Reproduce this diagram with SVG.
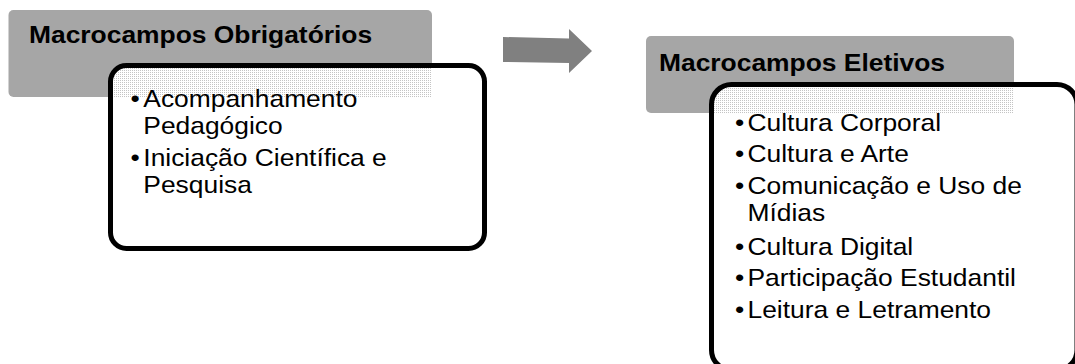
<svg xmlns="http://www.w3.org/2000/svg" width="1075" height="364" viewBox="0 0 1075 364">
<style>
.title{font-family:"Liberation Sans",Arial,sans-serif;font-weight:bold;font-size:24px;fill:#000}
.body{font-family:"Liberation Sans",Arial,sans-serif;font-size:24px;fill:#000}
.hdr{fill:#a6a6a6}
.card{fill:none;stroke:#000;stroke-width:5}
.bg{fill:#fff}
.arrow{fill:#808080}
</style>
<defs>
<pattern id="dots" width="2" height="2" patternUnits="userSpaceOnUse"><rect width="2" height="2" fill="#fff"/><rect width="1" height="1" fill="#c4c4c4"/></pattern>
<clipPath id="clipL"><rect x="110.5" y="65.5" width="374" height="183" rx="16"/></clipPath>
<clipPath id="clipR"><rect x="711.5" y="84.5" width="365.5" height="285.5" rx="20"/></clipPath>
</defs>
<rect width="1075" height="364" fill="#fff"/>
<g id="node-obrigatorios">
<rect class="hdr" x="8.5" y="10" width="423.5" height="87" rx="5"/>
<text class="title" transform="translate(29,43) scale(1.1,1)">Macrocampos Obrigatórios</text>
<rect class="bg" x="110.5" y="65.5" width="374" height="183" rx="16"/>
<rect x="108" y="63" width="324" height="34" fill="url(#dots)" clip-path="url(#clipL)"/>
<rect class="card" x="110.5" y="65.5" width="374" height="183" rx="16"/>
<text class="body" transform="translate(130.5,106.7) scale(1.1,1)">•</text>
<text class="body" transform="translate(143.3,106.7) scale(1.1,1)">Acompanhamento</text>
<text class="body" transform="translate(143.3,134.3) scale(1.1,1)">Pedagógico</text>
<text class="body" transform="translate(130.5,165.5) scale(1.1,1)">•</text>
<text class="body" transform="translate(143.3,165.5) scale(1.1,1)">Iniciação Científica e</text>
<text class="body" transform="translate(143.3,193.3) scale(1.1,1)">Pesquisa</text>
</g>
<g id="connectors">
<polygon class="arrow" points="503,37 569,38.5 569,29 592,51 569,73 569,63 503,62"/>
</g>
<g id="node-eletivos">
<rect class="hdr" x="646" y="36" width="368" height="77" rx="5"/>
<text class="title" transform="translate(659,70.7) scale(1.1,1)">Macrocampos Eletivos</text>
<rect class="bg" x="711.5" y="84.5" width="365.5" height="285.5" rx="20"/>
<rect x="709" y="82" width="305" height="31" fill="url(#dots)" clip-path="url(#clipR)"/>
<rect class="card" x="711.5" y="84.5" width="365.5" height="285.5" rx="20"/>
<text class="body" transform="translate(735,130.7) scale(1.1,1)">•</text>
<text class="body" transform="translate(747.5,130.7) scale(1.1,1)">Cultura Corporal</text>
<text class="body" transform="translate(735,162.3) scale(1.1,1)">•</text>
<text class="body" transform="translate(747.5,162.3) scale(1.1,1)">Cultura e Arte</text>
<text class="body" transform="translate(735,194) scale(1.1,1)">•</text>
<text class="body" transform="translate(747.5,194) scale(1.1,1)">Comunicação e Uso de</text>
<text class="body" transform="translate(747.5,221) scale(1.1,1)">Mídias</text>
<text class="body" transform="translate(735,254.5) scale(1.1,1)">•</text>
<text class="body" transform="translate(747.5,254.5) scale(1.1,1)">Cultura Digital</text>
<text class="body" transform="translate(735,286) scale(1.1,1)">•</text>
<text class="body" transform="translate(747.5,286) scale(1.1,1)">Participação Estudantil</text>
<text class="body" transform="translate(735,318) scale(1.1,1)">•</text>
<text class="body" transform="translate(747.5,318) scale(1.1,1)">Leitura e Letramento</text>
</g>
</svg>
